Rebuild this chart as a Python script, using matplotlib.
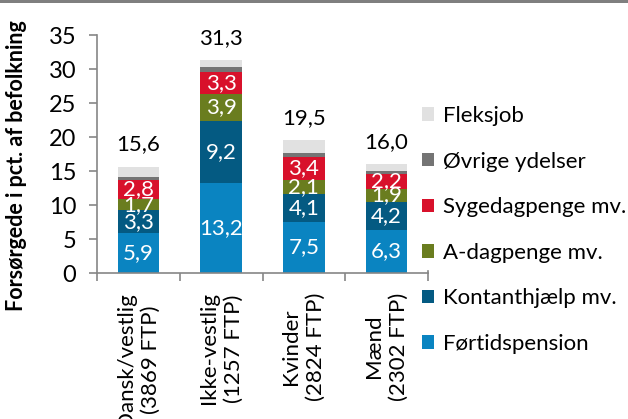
import matplotlib
matplotlib.use("Agg")
import matplotlib.pyplot as plt
from matplotlib.patches import Rectangle, Patch
import numpy as np

categories = ["Dansk/vestlig\n(3869 FTP)", "Ikke-vestlig\n(1257 FTP)",
              "Kvinder\n(2824 FTP)", "Mænd\n(2302 FTP)"]
series_names = ["Førtidspension", "Kontanthjælp mv.", "A-dagpenge mv.",
                "Sygedagpenge mv.", "Øvrige ydelser", "Fleksjob"]
fortidspension = [5.9, 13.2, 7.5, 6.3]
kontanthjaelp = [3.3, 9.2, 4.1, 4.2]
a_dagpenge = [1.7, 3.9, 2.1, 1.9]
sygedagpenge = [2.8, 3.3, 3.4, 2.2]
ovrige = [0.4, 0.7, 0.6, 0.4]
fleksjob = [1.5, 1.0, 1.8, 1.0]
totals = [15.6, 31.3, 19.5, 16.0]
yticks = [0, 5, 10, 15, 20, 25, 30, 35]

series = [fortidspension, kontanthjaelp, a_dagpenge, sygedagpenge, ovrige, fleksjob]
colors = ["#0a84c1", "#045a82", "#6a7d1f", "#d8112b", "#747474", "#e1e1e1"]
show_labels = [True, True, True, True, False, False]

plt.rcParams['font.family'] = ['Lato', 'DejaVu Sans']
FS = 16

fig = plt.figure(figsize=(6.28, 4.19), dpi=100)
ax = fig.add_axes([97/628, 1-273/419, (428-97)/628, (273-35)/419])

x = np.arange(len(categories))
bottom = np.zeros(len(categories))
containers = []
for vals, col, name, show in zip(series, colors, series_names, show_labels):
    c = ax.bar(x, vals, 0.5, bottom=bottom, color=col, label=name, zorder=2)
    if show:
        ax.bar_label(c, labels=[f"{v:.1f}".replace('.', ',') for v in vals],
                     label_type='center', color='white', fontsize=FS)
    containers.append(c)
    bottom = bottom + np.array(vals)

ax.bar_label(containers[-1], labels=[f"{v:.1f}".replace('.', ',') for v in totals],
             padding=9, fontsize=FS, color='black')

ax.set_xlim(-0.5, len(categories) - 0.5)
ax.set_ylim(0, 35)
ax.set_yticks(yticks)
ax.set_yticklabels([str(t) for t in yticks], fontsize=17)
ax.set_xticks(np.arange(len(categories) + 1) - 0.5)
ax.set_xticklabels([])
ax.set_xticks(x, minor=True)
ax.set_xticklabels(categories, minor=True, rotation=90, fontsize=FS,
                   va='top', ha='center', multialignment='center', linespacing=1.3)
ax.tick_params(axis='x', which='minor', length=0, pad=14)
ax.tick_params(axis='x', which='major', length=6, color='#868686', width=1.2)
ax.tick_params(axis='y', length=6, color='#868686', width=1.2, pad=9)

ax.spines['top'].set_visible(False)
for s in ['left', 'bottom', 'right']:
    ax.spines[s].set_color('#868686')
    ax.spines[s].set_linewidth(1.2)
ax.spines['right'].set_bounds(0, 0.35)

ax.set_ylabel("Forsørgede i pct. af befolkning", fontsize=15.5, fontweight='bold')
ax.yaxis.set_label_coords(-0.211, 0.45)

handles = [Patch(facecolor=c, label=n) for c, n in zip(colors, series_names)][::-1]
fig.legend(handles=handles, loc='upper left', bbox_to_anchor=(422/628, 1-106/419),
           frameon=False, fontsize=16, handlelength=0.55, handleheight=0.55,
           handletextpad=0.4, labelspacing=1.15, borderaxespad=0, borderpad=0)

fig.patches.append(Rectangle((0, 1-3/419), 1, 3/419, transform=fig.transFigure,
                             facecolor='#7f7f7f', edgecolor='none'))

fig.savefig("out.png", dpi=100)
